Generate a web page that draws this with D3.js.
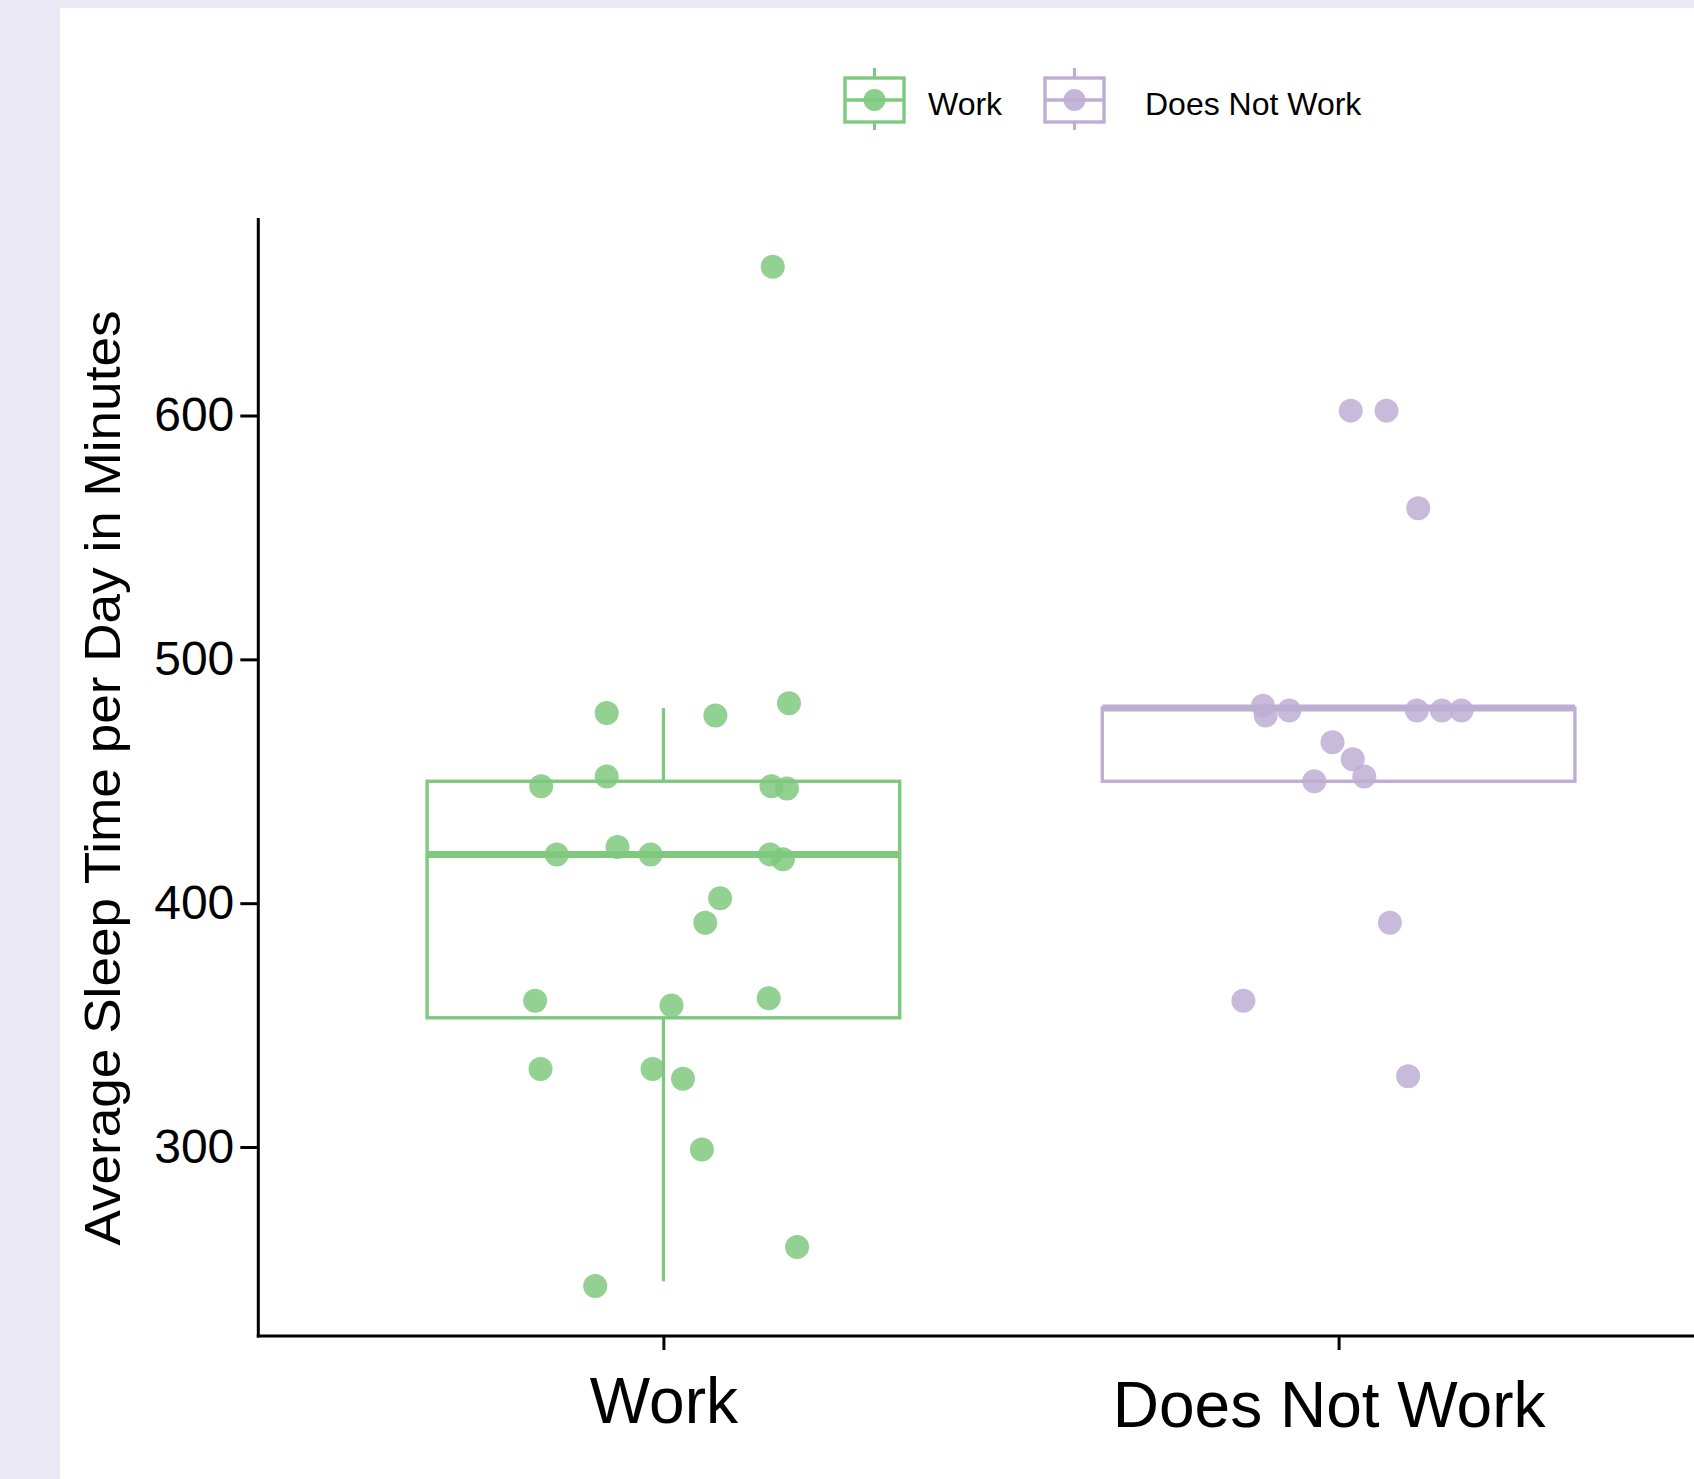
<!DOCTYPE html>
<html>
<head>
<meta charset="utf-8">
<script src="https://cdn.jsdelivr.net/npm/d3@7"></script>
<style>
  html, body { margin: 0; padding: 0; background: #ebe8f5; }
  svg { display: block; }
  text { font-family: "Liberation Sans", Arial, Helvetica, sans-serif; fill: #000; }
</style>
</head>
<body>
<svg id="chart" width="1694" height="1479"></svg>
<script>
// ---------------- data ----------------
const categories = ["Work", "Does Not Work"];
const colors = ["#7FC97F", "#BEAED4"];
const yTicks = [300, 400, 500, 600];

// box statistics [whiskerLow, q1, median, q3, whiskerHigh]
const workBox = [245, 353, 420, 450, 480];
const notWorkBox = [450, 450, 480, 480, 480];

// jittered points: values (minutes) and horizontal jitter (category units)
const workValues = [661, 478, 477, 482, 448, 452, 448, 447, 420, 423, 420, 420, 418, 402, 392, 360, 358, 361, 332, 332, 328, 299, 259, 243];
const workJitter = [0.162, -0.084, 0.077, 0.186, -0.181, -0.084, 0.160, 0.183, -0.158, -0.068, -0.019, 0.158, 0.177, 0.084, 0.062, -0.190, 0.012, 0.156, -0.182, -0.016, 0.029, 0.057, 0.198, -0.101];
const notWorkValues = [602, 602, 562, 481, 477, 479, 479, 479, 479, 466, 459, 452, 450, 392, 360, 329];
const notWorkJitter = [0.018, 0.071, 0.118, -0.112, -0.108, -0.073, 0.116, 0.153, 0.182, -0.009, 0.021, 0.038, -0.036, 0.076, -0.141, 0.103];

// ---------------- layout ----------------
const svg = d3.select("#chart");
const W = 1694, H = 1479;
svg.append("rect").attr("x", 0).attr("y", 0).attr("width", W).attr("height", H).attr("fill", "#ebe8f5");
svg.append("rect").attr("x", 60).attr("y", 8).attr("width", W - 60).attr("height", H - 8).attr("fill", "#ffffff");

const x = d3.scaleLinear().domain([-0.6, 1.6]).range([258.3, 1743.7]);
const y = d3.scaleLinear().domain([222.5, 681]).range([1336, 218]);
const boxHalf = 0.35;

const boxes = [workBox, notWorkBox];
const groups = [
  { values: workValues, jitter: workJitter },
  { values: notWorkValues, jitter: notWorkJitter }
];

// boxes
boxes.forEach((b, i) => {
  const g = svg.append("g");
  const c = colors[i];
  const x0 = x(i - boxHalf), x1 = x(i + boxHalf), xc = x(i);
  g.append("line").attr("x1", xc).attr("x2", xc).attr("y1", y(b[3])).attr("y2", y(b[4]))
    .attr("stroke", c).attr("stroke-width", 3.2);
  g.append("line").attr("x1", xc).attr("x2", xc).attr("y1", y(b[1])).attr("y2", y(b[0]))
    .attr("stroke", c).attr("stroke-width", 3.2);
  g.append("rect").attr("x", x0).attr("y", y(b[3])).attr("width", x1 - x0).attr("height", y(b[1]) - y(b[3]))
    .attr("fill", "none").attr("stroke", c).attr("stroke-width", 3.4);
  g.append("line").attr("x1", x0).attr("x2", x1).attr("y1", y(b[2])).attr("y2", y(b[2]))
    .attr("stroke", c).attr("stroke-width", 7);
});

// points
groups.forEach((grp, i) => {
  svg.append("g").selectAll("circle")
    .data(grp.values.map((v, k) => ({ v: v, j: grp.jitter[k] })))
    .join("circle")
    .attr("cx", d => x(i + d.j))
    .attr("cy", d => y(d.v))
    .attr("r", 12)
    .attr("fill", colors[i])
    .attr("fill-opacity", 0.85);
});

// axes
const yAxis = d3.axisLeft(y).tickValues(yTicks).tickSize(18).tickPadding(6).tickSizeOuter(0);
const yg = svg.append("g").attr("transform", "translate(258.3,0)").call(yAxis);
yg.select(".domain").remove();
yg.append("line").attr("x1", 0).attr("x2", 0).attr("y1", 218).attr("y2", 1337.5).attr("stroke", "#000").attr("stroke-width", 3);
yg.selectAll(".tick line").attr("stroke", "#000").attr("stroke-width", 3);
yg.selectAll(".tick text").attr("font-size", 48).attr("font-family", "Liberation Sans, Arial, sans-serif").attr("fill", "#000");

const xAxis = d3.axisBottom(x).tickValues([0, 1]).tickFormat(i => categories[i]).tickSize(14).tickPadding(13).tickSizeOuter(0);
const xg = svg.append("g").attr("transform", "translate(0,1336)").call(xAxis);
xg.select(".domain").remove();
xg.append("line").attr("x1", 256.8).attr("x2", W).attr("y1", 0).attr("y2", 0).attr("stroke", "#000").attr("stroke-width", 3);
xg.selectAll(".tick line").attr("stroke", "#000").attr("stroke-width", 3);
xg.selectAll(".tick text").attr("font-size", 64).attr("font-family", "Liberation Sans, Arial, sans-serif").attr("fill", "#000")
  .attr("dx", (d, i) => i === 1 ? -10 : 0)
  .attr("dy", (d, i) => i === 1 ? "1.0em" : "0.93em");

// y title
svg.append("text")
  .attr("transform", "translate(120,778) rotate(-90)")
  .attr("text-anchor", "middle")
  .attr("font-size", 50)
  .attr("textLength", 935)
  .attr("lengthAdjust", "spacingAndGlyphs")
  .text("Average Sleep Time per Day in Minutes");

// legend
const legendItems = [
  { label: categories[0], color: colors[0], kx: 845, tx: 928 },
  { label: categories[1], color: colors[1], kx: 1045, tx: 1145 }
];
const lg = svg.append("g");
legendItems.forEach(it => {
  const g = lg.append("g");
  const cx = it.kx + 29.5, cy = 100;
  g.append("line").attr("x1", cx).attr("x2", cx).attr("y1", 68).attr("y2", 130).attr("stroke", it.color).attr("stroke-width", 3);
  g.append("rect").attr("x", it.kx).attr("y", 78).attr("width", 59).attr("height", 44)
    .attr("fill", "#fff").attr("stroke", it.color).attr("stroke-width", 3.4);
  g.append("line").attr("x1", it.kx).attr("x2", it.kx + 59).attr("y1", cy).attr("y2", cy).attr("stroke", it.color).attr("stroke-width", 3.4);
  g.append("circle").attr("cx", cx).attr("cy", cy).attr("r", 11).attr("fill", it.color).attr("fill-opacity", 0.9);
  g.append("text").attr("x", it.tx).attr("y", 115).attr("font-size", 32).text(it.label);
});
</script>
</body>
</html>
